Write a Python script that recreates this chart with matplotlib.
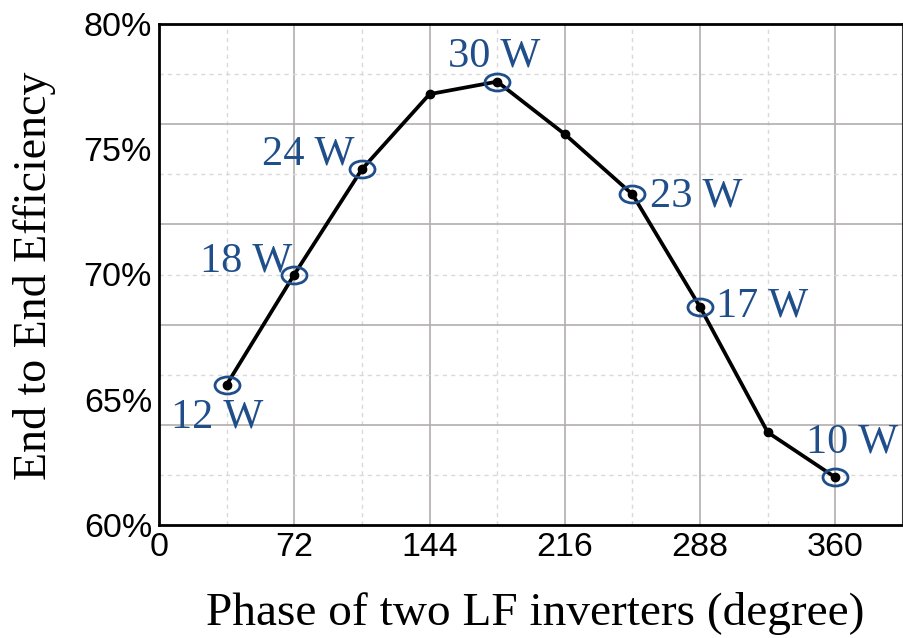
import matplotlib
matplotlib.use("Agg")
import matplotlib.pyplot as plt
from matplotlib.path import Path
from matplotlib.transforms import Affine2D
from matplotlib.ticker import FuncFormatter

# Measured efficiency versus phase shift between the two LF inverters
phase_deg = [36, 72, 108, 144, 180, 216, 252, 288, 324, 360]
efficiency_pct = [65.6, 70.0, 74.2, 77.2, 77.7, 75.6, 73.2, 68.7, 63.7, 61.9]

# Output power noted at selected operating points
power_phase = [36, 72, 108, 180, 252, 288, 360]
power_labels = ["12 W", "18 W", "24 W", "30 W", "23 W", "17 W", "10 W"]

x_ticks = [0, 72, 144, 216, 288, 360]
y_ticks = [60, 65, 70, 75, 80]

BLUE = "#1f4e8a"
SERIF = "Liberation Serif"
SANS = "Liberation Sans"

fig = plt.figure(figsize=(9.04, 6.38), dpi=100)
ax = fig.add_axes([159 / 904, 1 - 525 / 638, 744 / 904, 501 / 638])

ax.set_xlim(0, 396)
ax.set_ylim(60, 80)

# grid: solid major lines, dashed minor lines
for gx in range(72, 396, 72):
    ax.axvline(gx, color="#b3aeae", lw=1.2, zorder=0)
for gx in range(36, 396, 72):
    ax.axvline(gx, color="#d9d9d9", lw=1.0, ls=(0, (3, 3)), zorder=0)
for gy in range(64, 80, 4):
    ax.axhline(gy, color="#b3aeae", lw=1.2, zorder=0)
for gy in range(62, 80, 4):
    ax.axhline(gy, color="#d9d9d9", lw=1.0, ls=(0, (3, 3)), zorder=0)

ax.plot(phase_deg, efficiency_pct, color="black", lw=2.7, marker="o",
        markersize=6, zorder=3)

# elliptical ring marker around the annotated points
ellipse = Path.unit_circle().transformed(Affine2D().scale(1.0, 0.68))
eff_lookup = dict(zip(phase_deg, efficiency_pct))
power_eff = [eff_lookup[p] for p in power_phase]
ax.plot(power_phase, power_eff, ls="none", marker=ellipse, markersize=18,
        markerfacecolor="none", markeredgecolor=BLUE, markeredgewidth=2.0,
        zorder=4)

offsets = {
    "12 W": (-9, -43),
    "18 W": (-48, 3),
    "24 W": (-54, 5),
    "30 W": (-3, 15),
    "23 W": (64, -12),
    "17 W": (62, -9),
    "10 W": (17, 25),
}
for px, py, lab in zip(power_phase, power_eff, power_labels):
    ax.annotate(lab, (px, py), xytext=offsets[lab], textcoords="offset pixels",
                ha="center", va="baseline", color=BLUE, fontsize=30.5,
                family=SERIF, zorder=5)

ax.set_xticks(x_ticks)
ax.set_yticks(y_ticks)
ax.yaxis.set_major_formatter(FuncFormatter(lambda v, _: f"{v:.0f}%"))
ax.tick_params(length=0, labelsize=24.5, pad=5)
for lbl in ax.get_xticklabels() + ax.get_yticklabels():
    lbl.set_family(SANS)

for side in ["left", "bottom", "top"]:
    ax.spines[side].set_linewidth(2.0)
    ax.spines[side].set_color("black")
ax.spines["right"].set_linewidth(1.5)
ax.spines["right"].set_color("#333333")

ax.set_xlabel("Phase of two LF inverters (degree)", fontsize=34, family=SERIF,
              va="baseline")
ax.xaxis.set_label_coords((535 - 159) / 744, -(625 - 525) / 501)
ax.set_ylabel("End to End Efficiency", fontsize=33, family=SERIF, va="center")
ax.yaxis.set_label_coords((35 - 159) / 744, (525 - 276) / 501)

fig.savefig("out.png", dpi=100)
